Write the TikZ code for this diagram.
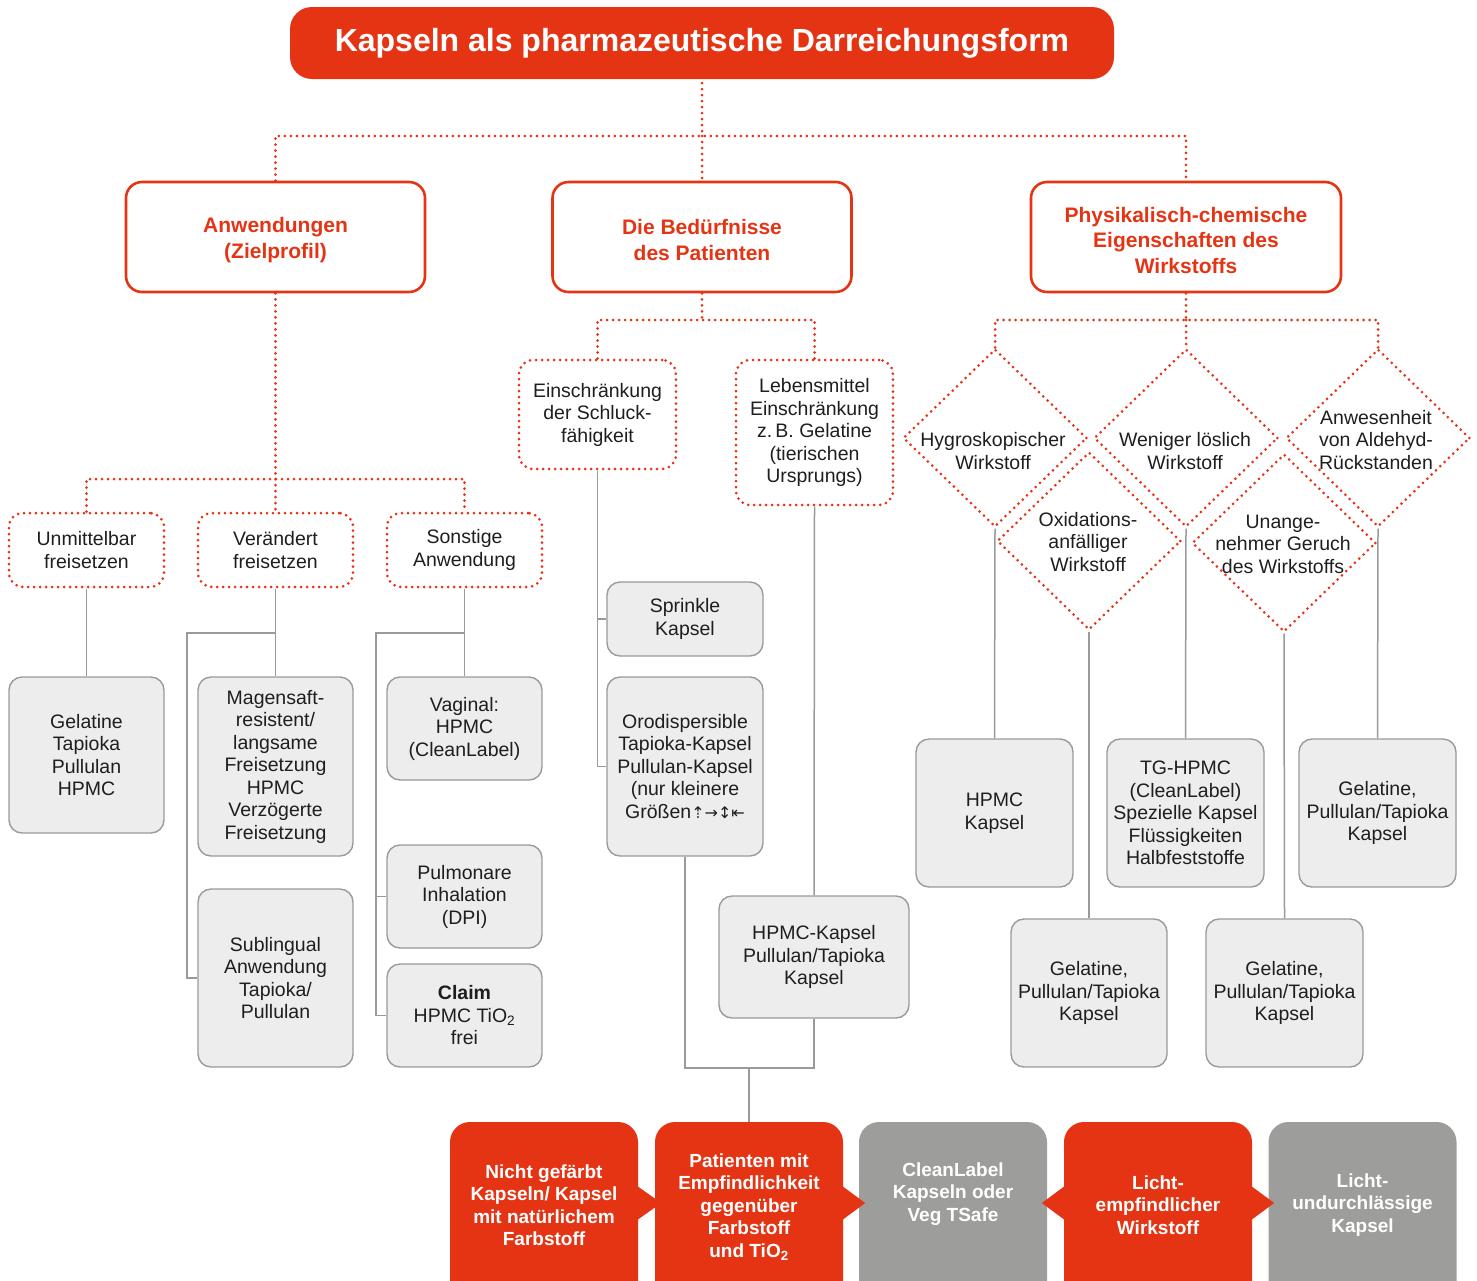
\documentclass[tikz,border=0pt]{standalone}
\usepackage{fontspec}
\setmainfont{Liberation Sans}
\newfontfamily\symf{DejaVu Sans}
\usetikzlibrary{shapes.geometric,calc}
\definecolor{capred}{HTML}{E53414}
\definecolor{boxg}{HTML}{EDEDED}
\definecolor{lineg}{HTML}{9A9A9A}
\definecolor{darkg}{HTML}{9D9D9C}
\definecolor{txtc}{HTML}{1E1E1E}
\newcommand\bodyf{\fontsize{19.5}{22.5}\selectfont}
\newcommand\headf{\fontsize{21}{25.5}\selectfont\bfseries}
\newcommand\titlef{\fontsize{32}{38}\selectfont\bfseries}
\newcommand\botf{\fontsize{19}{22.5}\selectfont\bfseries}
\begin{document}
\begin{tikzpicture}[x=1pt,y=-1pt,
  gbox/.style={draw=lineg, fill=boxg, line width=1.4pt, rounded corners=13pt, align=center, font=\bodyf, text=txtc, inner sep=0pt},
  dbox/.style={draw=capred, line width=3pt, dash pattern=on 0pt off 6pt, line cap=round, rounded corners=14pt, align=center, font=\bodyf, text=txtc, inner sep=0pt},
  hbox/.style={draw=capred, line width=2.6pt, rounded corners=16pt, align=center, font=\headf, text=capred, inner sep=0pt},
  diam/.style={diamond, draw=capred, line width=3pt, dash pattern=on 0pt off 6pt, line cap=round, minimum width=184pt, minimum height=178pt, inner sep=0pt},
  dtext/.style={align=center, font=\bodyf, text=txtc, inner sep=0pt},
  rdot/.style={draw=capred, line width=3pt, dash pattern=on 0pt off 6pt, line cap=round},
  gline/.style={draw=lineg, line width=1.5pt},
  bred/.style={fill=capred, rounded corners=20pt, minimum width=188pt, minimum height=200pt, inner sep=0pt},
  bgray/.style={fill=darkg, rounded corners=20pt, minimum width=188pt, minimum height=200pt, inner sep=0pt},
  btext/.style={align=center, font=\botf, text=white, inner sep=0pt}]
\useasboundingbox (0,0) rectangle (1477,1280);

% title
\node[fill=capred, rounded corners=22pt, minimum width=824pt, minimum height=72pt, text=white, font=\titlef, inner sep=0pt] (title) at (702,43) {Kapseln als pharmazeutische Darreichungsform};

% headers
\node[hbox, minimum width=299pt, minimum height=110pt] (h1) at (275.5,237) {};
\node[hbox, minimum width=299pt, minimum height=110pt] (h2) at (702,237) {};
\node[hbox, minimum width=310pt, minimum height=110pt] (h3) at (1186,237) {};
\node[align=center, font=\headf, text=capred, inner sep=0pt] (h1t) at (275.5,240) {Anwendungen\\(Zielprofil)};
\node[align=center, font=\headf, text=capred, inner sep=0pt] (h2t) at (702,240) {Die Bedürfnisse\\des Patienten};
\node[align=center, font=\headf, text=capred, inner sep=0pt] (h3t) at (1186,240) {Physikalisch-chemische\\Eigenschaften des\\Wirkstoffs};

\coordinate (hbar) at (0,136);
\draw[rdot] ([yshift=8pt]title.south) -- (title.south |- hbar);
\draw[rdot] (h1.north) |- (hbar -| h3.north) -- (h3.north);
\draw[rdot] (hbar -| h2.north) -- (h2.north);

% dotted sub boxes
\node[dbox, minimum width=155pt, minimum height=74pt] (s1) at (86.5,550) {Unmittelbar\\freisetzen};
\node[dbox, minimum width=155pt, minimum height=74pt] (s2) at (275.5,550) {Verändert\\freisetzen};
\node[dbox, minimum width=155pt, minimum height=74pt] (s3) at (464.5,550) {Sonstige\\Anwendung};
\node[dbox, minimum width=157pt, minimum height=109pt] (s4) at (597.5,414.5) {Einschränkung\\der Schluck-\\fähigkeit};
\node[dbox, minimum width=157pt, minimum height=145pt] (s5) at (814.5,432.5) {Lebensmittel\\Einschränkung\\z.\,B. Gelatine\\(tierischen\\Ursprungs)};

\coordinate (sbar) at (0,479);
\draw[rdot] (h1.south) -- (h1.south |- sbar);
\draw[rdot] (s1.north) |- (sbar -| s3.north) -- (s3.north);
\draw[rdot] (sbar -| s2.north) -- (s2.north);

\coordinate (pbar) at (0,320);
\draw[rdot] (h2.south) -- (h2.south |- pbar);
\draw[rdot] (s4.north) |- (pbar -| s5.north) -- (s5.north);

% diamonds
\node[diam] (d1) at (995,438) {};
\node[diam] (d2) at (1186,438) {};
\node[diam] (d3) at (1378,438) {};
\node[diam] (d4) at (1089,541) {};
\node[diam] (d5) at (1284,543) {};
\node[dtext] (d1t) at (993,451) {Hygroskopischer\\Wirkstoff};
\node[dtext] (d2t) at (1185,451) {Weniger löslich\\Wirkstoff};
\node[dtext] (d3t) at (1376,440) {Anwesenheit\\von Aldehyd-\\Rückstanden};
\node[dtext] (d4t) at (1088,542) {Oxidations-\\anfälliger\\Wirkstoff};
\node[dtext] (d5t) at (1283,544) {Unange-\\nehmer Geruch\\des Wirkstoffs};

\draw[rdot] (h3.south) -- (h3.south |- pbar);
\draw[rdot] (d1.north) |- (pbar -| d3.north) -- (d3.north);
\draw[rdot] (pbar -| d2.north) -- (d2.north);

% gray boxes
\node[gbox, minimum width=155pt, minimum height=156pt] (g1) at (86.5,755) {Gelatine\\Tapioka\\Pullulan\\HPMC};
\node[gbox, minimum width=155pt, minimum height=179pt] (g2) at (275.5,766.5) {Magensaft-\\resistent/\\langsame\\Freisetzung\\HPMC\\Verzögerte\\Freisetzung};
\node[gbox, minimum width=155pt, minimum height=178pt] (g3) at (275.5,978) {Sublingual\\Anwendung\\Tapioka/\\Pullulan};
\node[gbox, minimum width=155pt, minimum height=103pt] (g4) at (464.5,728.5) {Vaginal:\\HPMC\\(CleanLabel)};
\node[gbox, minimum width=155pt, minimum height=103pt] (g5) at (464.5,896.5) {Pulmonare\\Inhalation\\(DPI)};
\node[gbox, minimum width=155pt, minimum height=103pt] (g6) at (464.5,1015.5) {\textbf{Claim}\\HPMC TiO\textsubscript{2}\\frei};
\node[gbox, minimum width=156pt, minimum height=74pt] (g7) at (685,619) {Sprinkle\\Kapsel};
\node[gbox, minimum width=156pt, minimum height=179pt] (g8) at (685,766.5) {Orodispersible\\Tapioka-Kapsel\\Pullulan-Kapsel\\(nur kleinere\\Größen{\symf\fontsize{16}{18}\selectfont ⇡→↕⇤}};
\node[gbox, minimum width=190pt, minimum height=122pt] (g9) at (814,957) {HPMC-Kapsel\\Pullulan/Tapioka\\Kapsel};
\node[gbox, minimum width=157pt, minimum height=148pt] (g10) at (994.5,813) {HPMC\\Kapsel};
\node[gbox, minimum width=157pt, minimum height=148pt] (g11) at (1185.5,813) {TG-HPMC\\(CleanLabel)\\Spezielle Kapsel\\Flüssigkeiten\\Halbfeststoffe};
\node[gbox, minimum width=157pt, minimum height=148pt] (g12) at (1377.5,813) {Gelatine,\\Pullulan/Tapioka\\Kapsel};
\node[gbox, minimum width=156pt, minimum height=148pt] (g13) at (1089,993) {Gelatine,\\Pullulan/Tapioka\\Kapsel};
\node[gbox, minimum width=157pt, minimum height=148pt] (g14) at (1284.5,993) {Gelatine,\\Pullulan/Tapioka\\Kapsel};

% gray connectors
\draw[gline] (s1.south) -- (g1.north);
\draw[gline] (s2.south) -- (g2.north);
\coordinate (bb2) at (187,633);
\draw[gline] (s2.south |- bb2) -- (bb2) |- (g3.west);
\draw[gline] (s3.south) -- (g4.north);
\coordinate (bb3) at (376,633);
\draw[gline] (s3.south |- bb3) -- (bb3) |- (g6.west);
\draw[gline] (bb3 |- g5.west) -- (g5.west);
\draw[gline] (s4.south) |- (g8.west);
\draw[gline] (s4.south |- g7.west) -- (g7.west);
\draw[gline] (s5.south) -- (g9.north);
\draw[gline] (d1.south) -- (g10.north);
\draw[gline] (d2.south) -- (g11.north);
\draw[gline] (d3.south) -- (g12.north);
\draw[gline] (d4.south) -- (g13.north);
\draw[gline] (d5.south) -- (g14.north);

% bottom row
\coordinate (ay) at (0,1203);
\begin{scope}
\clip (0,0) rectangle (1477,1280);
\node[bred] (b1) at (544,1222) {};
\node[bred] (b2) at (749,1222) {};
\node[bgray] (b3) at (953,1222) {};
\node[bred] (b4) at (1158,1222) {};
\node[bgray] (b5) at (1362.5,1222) {};
\end{scope}
\fill[capred] ($(b1.east|-ay)+(-1,-17)$) -- ($(b1.east|-ay)+(23,0)$) -- ($(b1.east|-ay)+(-1,17)$) -- cycle;
\fill[capred] ($(b2.east|-ay)+(-1,-17)$) -- ($(b2.east|-ay)+(22,0)$) -- ($(b2.east|-ay)+(-1,17)$) -- cycle;
\fill[capred] ($(b4.west|-ay)+(1,-17)$) -- ($(b4.west|-ay)+(-22,0)$) -- ($(b4.west|-ay)+(1,17)$) -- cycle;
\fill[capred] ($(b4.east|-ay)+(-1,-17)$) -- ($(b4.east|-ay)+(22,0)$) -- ($(b4.east|-ay)+(-1,17)$) -- cycle;
\node[btext] (b1t) at (544,1205) {Nicht gefärbt\\Kapseln/ Kapsel\\mit natürlichem\\Farbstoff};
\node[btext] (b2t) at (749,1207) {Patienten mit\\Empfindlichkeit\\gegenüber\\Farbstoff\\und TiO\textsubscript{2}};
\node[btext] (b3t) at (953,1194) {CleanLabel\\Kapseln oder\\Veg TSafe};
\node[btext] (b4t) at (1158,1205) {Licht-\\empfindlicher\\Wirkstoff};
\node[btext] (b5t) at (1362.5,1205) {Licht-\\undurchlässige\\Kapsel};

\coordinate (jn) at (749,1068);
\draw[gline] (g8.south) |- (g9.south |- jn) -- (g9.south);
\draw[gline] (jn -| b2.north) -- (b2.north);
\end{tikzpicture}
\end{document}
